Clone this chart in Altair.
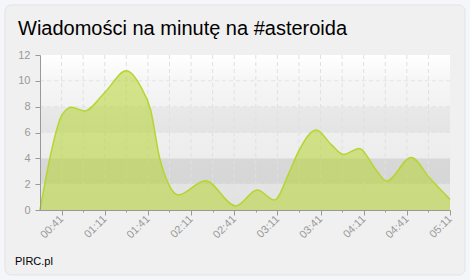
import altair as alt
import pandas as pd

TITLE = "Wiadomości na minutę na #asteroida"
CREDIT = "PIRC.pl"

times = ["00:26", "00:34", "00:41", "00:48", "00:57", "01:11", "01:26", "01:36",
         "01:43", "01:49", "01:55", "02:02", "02:21", "02:42", "02:57", "03:09",
         "03:19", "03:26", "03:38", "03:49", "03:57", "04:08", "04:19", "04:27",
         "04:44", "04:57", "05:11"]
values = [0, 4.6, 7.3, 7.95, 7.66, 9.1, 10.78, 9.55,
          7.7, 4.1, 2.1, 1.16, 2.27, 0.31, 1.55, 0.77,
          2.86, 4.6, 6.2, 5.0, 4.3, 4.77, 3.2, 2.24,
          4.07, 2.45, 0.82]

tick_times = ["00:41", "00:56", "01:11", "01:26", "01:41", "01:56", "02:11", "02:26",
              "02:41", "02:56", "03:11", "03:26", "03:41", "03:56", "04:11", "04:26",
              "04:41", "04:56", "05:11"]
y_ticks = [0, 2, 4, 6, 8, 10, 12]

band_lo = [0, 2, 4, 6, 8, 10]
band_hi = [2, 4, 6, 8, 10, 12]
band_top = ["#e4e4e4", "#d8d8d8", "#efefef", "#e9e9e9", "#f6f6f6", "#ffffff"]
band_bot = ["#e2e2e2", "#d6d6d6", "#ededed", "#e4e4e4", "#f2f2f2", "#f6f6f6"]

X_START, X_END = "00:26", "05:11"


def to_min(t):
    h, m = t.split(":")
    return int(h) * 60 + int(m)


df = pd.DataFrame({"m": [to_min(t) for t in times], "v": values})
ticks = [to_min(t) for t in tick_times]
df_vgrid = pd.DataFrame({"m": ticks[:-1]})
df_hgrid = pd.DataFrame({"v": y_ticks[1:-1]})
one = pd.DataFrame({"t": [TITLE], "c": [CREDIT]})

xscale = alt.Scale(domain=[to_min(X_START), to_min(X_END)], nice=False, zero=False)
yscale = alt.Scale(domain=[0, 12], nice=False)

first_major = to_min("00:41")
major_test = f"(datum.value - {first_major}) % 30 == 0"
label_expr = (f"{major_test} ? ('0' + floor(datum.value / 60) + ':' + "
              "(datum.value % 60 < 10 ? '0' : '') + (datum.value % 60)) : ''")

x_axis = alt.Axis(
    values=ticks, title=None, grid=False, zindex=1,
    labelExpr=label_expr, labelAngle=315, labelAlign="right", labelBaseline="middle",
    labelPadding=2, labelOverlap=False, labelFlush=False, labelBound=False,
    tickSize={"condition": {"test": major_test, "value": 5}, "value": 2},
    domainColor="#999999", tickColor="#999999",
)
y_axis = alt.Axis(values=y_ticks, title=None, grid=False, zindex=1, tickSize=5, labelPadding=5,
                  domainColor="#999999", tickColor="#999999")

panel = alt.Chart(one).mark_rect(
    fill="#f0f0f0", stroke="#e3e3e3", strokeWidth=1, cornerRadius=6
).encode(x=alt.value(-35), x2=alt.value(425), y=alt.value(-50), y2=alt.value(220))

band_layers = []
for lo, hi, ct, cb in zip(band_lo, band_hi, band_top, band_bot):
    bdf = pd.DataFrame({"lo": [lo], "hi": [hi]})
    band_layers.append(
        alt.Chart(bdf).mark_rect(
            fill=alt.Gradient(gradient="linear", x1=0, x2=0, y1=0, y2=1,
                              stops=[alt.GradientStop(color=ct, offset=0),
                                     alt.GradientStop(color=cb, offset=1)])
        ).encode(y=alt.Y("lo:Q", scale=yscale, axis=y_axis), y2="hi:Q")
    )

vgrid = alt.Chart(df_vgrid).mark_rule(
    color="#e0e0e0", strokeDash=[4, 3], strokeWidth=1
).encode(x=alt.X("m:Q", scale=xscale, axis=x_axis))

hgrid = alt.Chart(df_hgrid).mark_rule(
    color="#e3e3e3", strokeDash=[4, 3], strokeWidth=1
).encode(y=alt.Y("v:Q", scale=yscale, axis=y_axis))

area = alt.Chart(df).mark_area(
    interpolate="monotone", color="#b4d432", opacity=0.55
).encode(
    x=alt.X("m:Q", scale=xscale, axis=x_axis),
    y=alt.Y("v:Q", scale=yscale, axis=y_axis),
)

line = alt.Chart(df).mark_line(
    interpolate="monotone", color="#b6d531", strokeWidth=1.5
).encode(
    x=alt.X("m:Q", scale=xscale, axis=x_axis),
    y=alt.Y("v:Q", scale=yscale, axis=y_axis),
)

title = alt.Chart(one).mark_text(
    align="left", baseline="alphabetic", fontSize=20, font="Liberation Sans", color="#000000"
).encode(text="t:N", x=alt.value(-22), y=alt.value(-20))

credit = alt.Chart(one).mark_text(
    align="left", baseline="alphabetic", fontSize=11, font="Liberation Sans", color="#000000"
).encode(text="c:N", x=alt.value(-25), y=alt.value(210))

chart = alt.layer(panel, *band_layers, vgrid, hgrid, area, line, title, credit).properties(
    width=410, height=155,
    padding={"left": 40, "top": 55, "right": 20, "bottom": 70},
    autosize=alt.AutoSizeParams(type="none"),
    background="#f5f6fa",
).configure_view(stroke=None).configure_axis(
    labelFont="Liberation Sans", labelFontSize=11, labelColor="#999999"
)

chart.save("out.html", embed_options={"renderer": "svg", "actions": False})
